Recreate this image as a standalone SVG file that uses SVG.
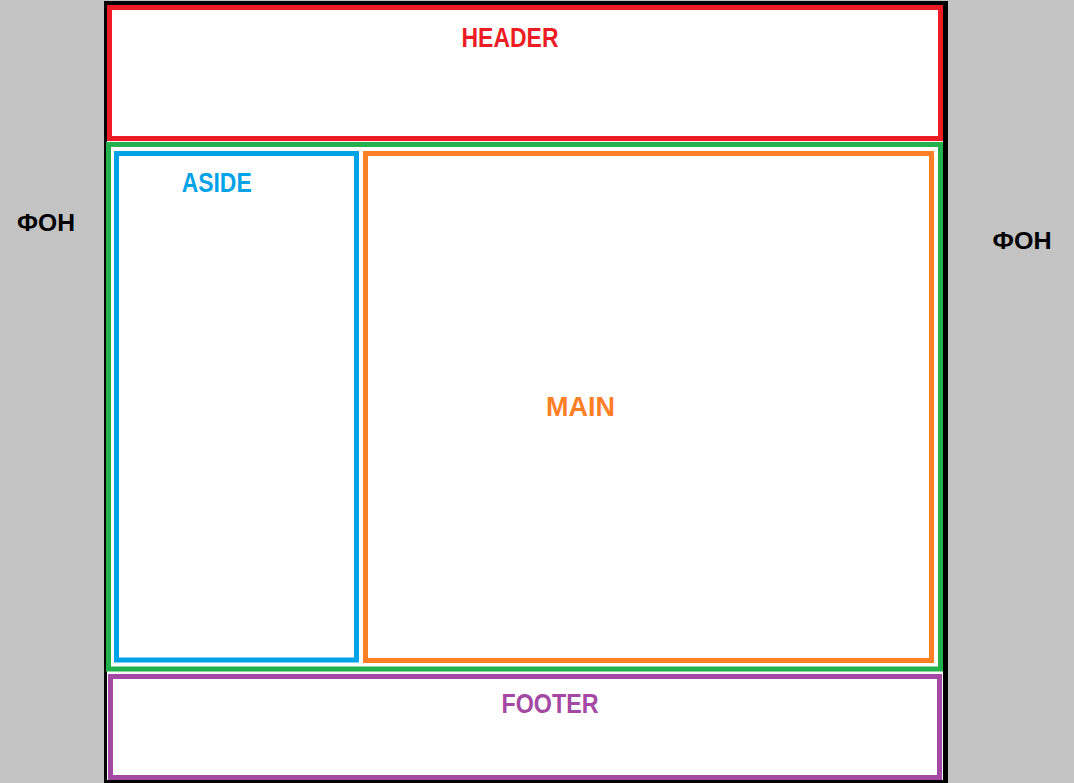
<svg xmlns="http://www.w3.org/2000/svg" width="1074" height="783" viewBox="0 0 1074 783">
<style>
.box{fill:none;stroke-width:5}
.lbl{font-family:"Liberation Sans",Arial,sans-serif;font-weight:bold;text-anchor:middle}
.c{font-size:27px}
.f{font-size:23px;fill:#000}
</style>
<rect x="0" y="0" width="1074" height="783" fill="#c3c3c3"/>
<rect x="104" y="1" width="844" height="782" fill="#000"/>
<rect x="107" y="5" width="836" height="775" fill="#fff"/>
<g id="bg-left"><text class="lbl f" x="46" y="231" textLength="58" lengthAdjust="spacingAndGlyphs">ФОН</text></g>
<g id="bg-right"><text class="lbl f" x="1022" y="248.5" textLength="59" lengthAdjust="spacingAndGlyphs">ФОН</text></g>
<g id="header">
<rect class="box" x="109.5" y="7.5" width="831" height="131" stroke="#ed1c24"/>
<text class="lbl c" x="510" y="47" fill="#ed1c24" textLength="97" lengthAdjust="spacingAndGlyphs">HEADER</text>
</g>
<g id="container">
<rect class="box" x="108.5" y="144.5" width="832" height="524.5" stroke="#22b14c"/>
</g>
<g id="aside">
<rect class="box" x="116.5" y="153.5" width="240" height="506.5" stroke="#00a2e8"/>
<text class="lbl c" x="216.7" y="191.5" fill="#00a2e8" textLength="70" lengthAdjust="spacingAndGlyphs">ASIDE</text>
</g>
<g id="main">
<rect class="box" x="365.5" y="153.5" width="566" height="507" stroke="#ff7f27"/>
<text class="lbl c" x="580.5" y="415.5" fill="#ff7f27" textLength="69" lengthAdjust="spacingAndGlyphs">MAIN</text>
</g>
<g id="footer">
<rect class="box" x="110.5" y="676.5" width="829" height="101" stroke="#a349a4"/>
<text class="lbl c" x="550" y="712.5" fill="#a349a4" textLength="97" lengthAdjust="spacingAndGlyphs">FOOTER</text>
</g>
<g id="connectors"/>
</svg>
